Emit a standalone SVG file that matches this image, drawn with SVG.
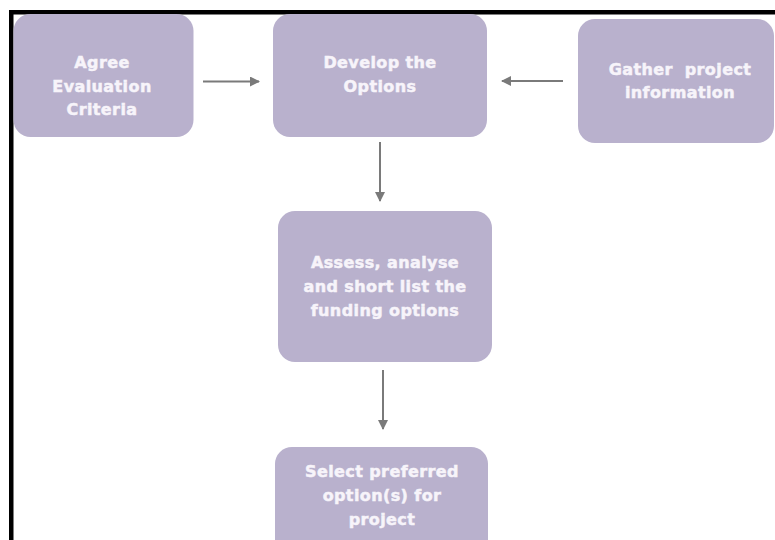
<svg xmlns="http://www.w3.org/2000/svg" width="775" height="540" viewBox="0 0 775 540">
  <style>
    .box { fill: #b9b1cd; }
    .label { font-family: "DejaVu Sans", "Liberation Sans", sans-serif; font-weight: bold; font-size: 16px; letter-spacing: 0.4px; fill: #f7f4fa; stroke: #f7f4fa; stroke-width: 0.5px; text-anchor: middle; }
    .conn { stroke: #7a7a7a; stroke-width: 2; fill: none; marker-end: url(#head); }
  </style>
  <defs>
    <marker id="head" viewBox="0 0 10 10" refX="9" refY="5" markerWidth="5" markerHeight="5" orient="auto" markerUnits="strokeWidth">
      <path d="M0,0 L10,5 L0,10 z" fill="#7a7a7a"/>
    </marker>
  </defs>
  <rect width="775" height="540" fill="#ffffff"/>
  <!-- frame -->
  <rect x="9" y="10" width="766" height="4.5" fill="#000000"/>
  <rect x="9" y="10" width="4.5" height="530" fill="#000000"/>

  <g id="agree">
    <rect class="box" x="13.5" y="14" width="180" height="123" rx="17"/>
    <text class="label" x="102" y="68">Agree</text>
    <text class="label" x="102" y="92">Evaluation</text>
    <text class="label" x="102" y="115">Criteria</text>
  </g>
  <g id="develop">
    <rect class="box" x="273" y="14" width="214" height="123" rx="17"/>
    <text class="label" x="380" y="68">Develop the</text>
    <text class="label" x="380" y="92">Options</text>
  </g>
  <g id="gather">
    <rect class="box" x="578" y="19" width="196" height="124" rx="17"/>
    <text class="label" x="680" y="75" xml:space="preserve">Gather  project</text>
    <text class="label" x="680" y="98">information</text>
  </g>
  <g id="assess">
    <rect class="box" x="278" y="211" width="214" height="151" rx="17"/>
    <text class="label" x="385" y="268">Assess, analyse</text>
    <text class="label" x="385" y="292">and short list the</text>
    <text class="label" x="385" y="316">funding options</text>
  </g>
  <g id="select">
    <rect class="box" x="275" y="447" width="213" height="110" rx="17"/>
    <text class="label" x="382" y="477">Select preferred</text>
    <text class="label" x="382" y="501">option(s) for</text>
    <text class="label" x="382" y="525">project</text>
  </g>

  <g id="connectors">
    <line class="conn" x1="203" y1="81.5" x2="259" y2="81.5"/>
    <line class="conn" x1="563" y1="81" x2="502" y2="81"/>
    <line class="conn" x1="380" y1="142" x2="380" y2="201"/>
    <line class="conn" x1="383" y1="370" x2="383" y2="429"/>
  </g>
</svg>
